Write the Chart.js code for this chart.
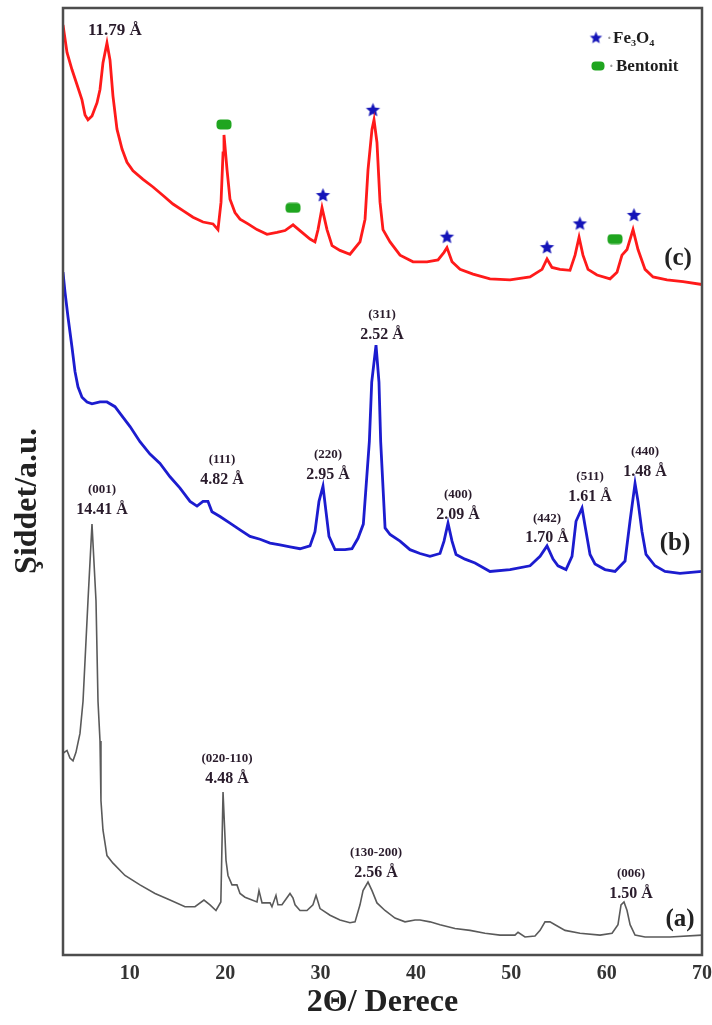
<!DOCTYPE html>
<html>
<head>
<meta charset="utf-8">
<script src="https://cdn.jsdelivr.net/npm/chart.js@4.4.0/dist/chart.umd.min.js"></script>
<style>
  html, body { margin: 0; padding: 0; background: #fff; }
</style>
</head>
<body>
<canvas id="xrd" width="712" height="1025"></canvas>
<script>
// (a) bentonite, (b) Fe3O4, (c) Fe3O4/bentonite composite
const aTheta = [3.0,3.42,3.73,4.05,4.36,4.78,5.10,5.62,6.04,6.46,6.67,6.88,6.98,7.19,7.61,8.24,9.50,11.07,12.65,14.22,15.79,16.84,17.78,18.41,19.04,19.55,19.78,20.09,20.30,20.72,21.24,21.56,22.08,23.34,23.55,23.87,24.71,24.91,25.33,25.54,25.96,26.80,27.12,27.33,27.85,28.58,29.21,29.53,29.95,31.00,32.04,33.09,33.62,34.14,34.46,34.98,35.40,35.92,36.76,37.81,38.86,39.91,40.43,41.48,42.53,44.10,45.68,47.25,48.82,50.39,50.71,51.44,52.49,53.02,53.54,54.06,54.59,55.64,57.21,59.31,60.57,61.19,61.51,61.82,62.14,62.46,62.98,64.03,66.65,70.0];
const aInt = [21.3,21.6,20.8,20.5,21.4,23.4,26.8,37.4,45.5,37.4,26.8,22.6,16.3,13.2,10.5,9.7,8.4,7.4,6.5,5.8,5.1,5.1,5.8,5.3,4.7,5.6,17.2,10.0,8.4,7.4,7.4,6.5,6.1,5.6,6.8,5.5,5.5,5.1,6.3,5.3,5.3,6.5,6.0,5.3,4.7,4.7,5.3,6.3,4.9,4.2,3.7,3.4,3.5,5.3,6.8,7.7,6.8,5.5,4.7,3.9,3.5,3.7,3.7,3.5,3.2,2.8,2.6,2.3,2.1,2.1,2.4,1.9,2.0,2.6,3.5,3.5,3.2,2.6,2.3,2.1,2.3,3.2,5.3,5.6,4.7,3.2,2.1,1.9,1.9,2.1];

const bTheta = [3.00,3.21,3.52,3.94,4.26,4.57,4.99,5.52,6.04,6.88,7.61,8.45,8.98,10.03,11.07,12.12,13.17,14.22,15.27,16.32,17.05,17.68,18.20,18.62,19.46,20.51,21.56,22.61,23.66,24.71,25.75,26.80,27.85,28.90,29.42,29.84,30.26,30.58,30.89,31.52,32.57,33.30,33.93,34.49,35.12,35.37,35.82,36.13,36.31,36.77,37.29,38.34,39.38,40.43,41.48,42.53,42.95,43.37,43.79,44.21,45.15,46.20,47.77,49.87,51.97,53.02,53.75,54.38,54.90,55.74,56.37,56.79,57.42,57.74,58.26,58.78,59.83,60.88,61.93,62.45,62.98,63.29,63.71,64.13,65.07,66.12,67.69,70.00];
const bInt = [72.1,70.0,67.4,64.2,61.6,60.0,58.9,58.4,58.2,58.4,58.4,57.9,57.2,55.8,54.2,52.9,51.9,50.5,49.3,47.9,47.4,47.9,47.9,46.8,46.3,45.6,44.9,44.2,43.9,43.5,43.3,43.1,42.9,43.2,44.7,47.9,49.5,46.8,44.2,42.8,42.8,42.9,44.0,45.5,54.2,60.5,64.4,60.5,54.2,45.1,44.4,43.7,42.8,42.4,42.1,42.4,43.7,45.6,43.7,42.3,41.8,41.4,40.5,40.7,41.1,42.1,43.2,41.8,41.1,40.7,42.1,45.8,47.2,45.3,42.3,41.3,40.7,40.5,41.6,45.8,49.8,47.9,44.7,42.3,41.1,40.5,40.3,40.5];

const cTheta = [3.00,3.42,3.94,4.47,4.99,5.31,5.62,6.04,6.57,6.88,7.19,7.61,7.93,8.24,8.66,9.19,9.71,10.34,11.39,12.44,13.49,14.53,15.58,16.63,17.68,18.73,19.25,19.57,19.78,19.88,20.20,20.51,21.03,21.56,22.40,23.34,24.39,25.44,26.28,27.12,28.06,28.90,29.42,29.74,30.16,30.68,31.21,32.04,33.09,34.14,34.67,34.98,35.40,35.61,35.92,36.24,36.55,37.29,38.34,39.70,41.17,42.32,42.95,43.26,43.79,44.63,45.99,47.77,49.87,51.97,53.23,53.75,54.27,55.11,56.16,56.69,57.11,57.52,58.05,58.99,60.36,61.09,61.61,62.14,62.77,63.29,64.03,64.87,66.33,68.01,70.00];
const cInt = [98.2,95.3,93.5,91.9,90.3,88.7,88.2,88.6,90.0,91.4,94.2,96.3,94.5,90.7,87.2,85.1,83.7,82.8,81.9,81.1,80.2,79.3,78.6,77.9,77.4,77.2,76.6,79.5,84.7,86.6,82.9,79.8,78.4,77.7,77.2,76.6,76.1,76.3,76.5,77.1,76.3,75.6,75.3,76.6,78.9,76.6,74.9,74.4,74.0,75.3,77.7,82.9,87.2,88.2,85.8,79.5,76.6,75.3,73.9,73.2,73.2,73.4,74.2,74.7,73.2,72.4,71.9,71.4,71.3,71.6,72.4,73.5,72.6,72.4,72.3,73.9,75.8,73.9,72.4,71.8,71.4,72.1,73.9,74.5,76.6,74.5,72.4,71.6,71.3,71.1,70.8];

// phase markers on curve (c)
const feTheta = [30.26, 35.50, 43.26, 53.75, 57.20, 62.87];
const feInt = [80.2, 89.2, 75.8, 74.7, 77.2, 78.1];
const benTheta = [19.88, 27.12, 60.88];
const benInt = [87.7, 78.9, 75.6];

const xTicks = [10, 20, 30, 40, 50, 60, 70];

// peak annotations: miller index over d-spacing
const peakHkl = ['(001)', '(111)', '(220)', '(311)', '(400)', '(442)', '(511)', '(440)', '(020-110)', '(130-200)', '(006)'];
const peakD = ['14.41 Å', '4.82 Å', '2.95 Å', '2.52 Å', '2.09 Å', '1.70 Å', '1.61 Å', '1.48 Å', '4.48 Å', '2.56 Å', '1.50 Å'];
const peakLabelTheta = [7.09, 19.67, 30.79, 36.45, 44.42, 53.75, 58.26, 64.03, 20.2, 35.82, 62.56];
const peakLabelInt = [47.05, 50.2, 50.7, 65.5, 46.5, 44.0, 48.4, 51.05, 18.6, 8.7, 6.5];

const curveNames = ['(a)', '(b)', '(c)'];
const curveNameTheta = [67.7, 67.17, 67.49];
const curveNameInt = [3.7, 43.4, 73.5];

const SERIF = "'Liberation Serif', 'DejaVu Serif', serif";
const LABEL = '#2a1c2c';

function toPoints(xs, ys) {
  return xs.map((x, i) => ({ x: x, y: ys[i] }));
}

function starImage(r, color) {
  const c = document.createElement('canvas');
  const s = Math.ceil(r * 2 + 2);
  c.width = c.height = s;
  const g = c.getContext('2d');
  g.fillStyle = color;
  g.beginPath();
  for (let i = 0; i < 10; i++) {
    const rad = i % 2 ? r * 0.45 : r;
    const a = -Math.PI / 2 + i * Math.PI / 5;
    g.lineTo(s / 2 + rad * Math.cos(a), s / 2 + rad * Math.sin(a));
  }
  g.closePath();
  g.fill();
  return c;
}

function pillImage(w, h, color) {
  const c = document.createElement('canvas');
  c.width = w; c.height = h;
  const g = c.getContext('2d');
  g.fillStyle = color;
  g.beginPath();
  g.roundRect(0.5, 0.5, w - 1, h - 1, 4);
  g.fill();
  return c;
}

const star = starImage(7.5, '#1414b8');
const legendStar = starImage(6.5, '#1414b8');
const pill = pillImage(16, 11, '#1fa51f');
const legendPill = pillImage(14, 10, '#1fa51f');

const framePlugin = {
  id: 'frame',
  afterDraw(chart) {
    const { ctx, chartArea: a } = chart;
    ctx.save();
    ctx.strokeStyle = '#4d4d4d';
    ctx.lineWidth = 2.5;
    ctx.strokeRect(a.left, a.top, a.right - a.left, a.bottom - a.top);
    ctx.restore();
  }
};

const textPlugin = {
  id: 'texts',
  afterDraw(chart) {
    const { ctx, chartArea: a } = chart;
    const xs = chart.scales.x, ys = chart.scales.y;
    ctx.save();
    ctx.textAlign = 'center';
    ctx.textBaseline = 'middle';
    ctx.fillStyle = LABEL;

    peakD.forEach((d, i) => {
      const px = xs.getPixelForValue(peakLabelTheta[i]);
      const py = ys.getPixelForValue(peakLabelInt[i]);
      ctx.font = 'bold 13px ' + SERIF;
      ctx.fillText(peakHkl[i], px, py - 20);
      ctx.font = 'bold 16px ' + SERIF;
      ctx.fillText(d, px, py);
    });

    ctx.font = 'bold 17px ' + SERIF;
    ctx.fillText('11.79 Å', xs.getPixelForValue(8.45), ys.getPixelForValue(97.6));

    ctx.fillStyle = '#222';
    ctx.font = 'bold 25px ' + SERIF;
    curveNames.forEach((n, i) => {
      ctx.fillText(n, xs.getPixelForValue(curveNameTheta[i]), ys.getPixelForValue(curveNameInt[i]));
    });

    // legend, top right corner
    const lx = a.right - 106;
    ctx.drawImage(legendStar, lx - legendStar.width / 2, a.top + 30 - legendStar.height / 2);
    ctx.drawImage(legendPill, lx + 2 - legendPill.width / 2, a.top + 58 - legendPill.height / 2);
    ctx.textAlign = 'left';
    ctx.fillStyle = '#999';
    ctx.font = 'bold 14px ' + SERIF;
    ctx.fillText('·', lx + 11, a.top + 31);
    ctx.fillText('·', lx + 13, a.top + 59);
    ctx.fillStyle = '#1e1e1e';
    ctx.font = 'bold 17px ' + SERIF;
    ctx.fillText('Fe₃O₄', lx + 17, a.top + 31);
    ctx.fillText('Bentonit', lx + 20, a.top + 59);

    // vertical axis title
    ctx.translate(28, 501);
    ctx.rotate(-Math.PI / 2);
    ctx.textAlign = 'center';
    ctx.fillStyle = '#222';
    ctx.font = 'bold 32px ' + SERIF;
    ctx.fillText('Şiddet/a.u.', 0, 0);
    ctx.restore();
  }
};

new Chart(document.getElementById('xrd'), {
  type: 'scatter',
  data: {
    datasets: [
      {
        label: '(a)',
        data: toPoints(aTheta, aInt),
        showLine: true,
        borderColor: '#5a5a5a',
        borderWidth: 1.6,
        pointRadius: 0,
        tension: 0
      },
      {
        label: '(b)',
        data: toPoints(bTheta, bInt),
        showLine: true,
        borderColor: '#1c1ccf',
        borderWidth: 2.8,
        pointRadius: 0,
        tension: 0
      },
      {
        label: '(c)',
        data: toPoints(cTheta, cInt),
        showLine: true,
        borderColor: '#ff1a1a',
        borderWidth: 2.8,
        pointRadius: 0,
        tension: 0
      },
      {
        label: 'Fe3O4',
        data: toPoints(feTheta, feInt),
        pointStyle: star,
        pointRadius: 7
      },
      {
        label: 'Bentonit',
        data: toPoints(benTheta, benInt),
        pointStyle: pill,
        pointRadius: 7
      }
    ]
  },
  options: {
    responsive: false,
    animation: false,
    devicePixelRatio: 1,
    layout: { padding: { top: 5, right: 10, left: 0, bottom: 0 } },
    plugins: {
      legend: { display: false },
      tooltip: { enabled: false }
    },
    scales: {
      x: {
        type: 'linear',
        min: 3,
        max: 70,
        afterBuildTicks: s => { s.ticks = xTicks.map(v => ({ value: v })); },
        afterFit: s => {
          s.height = 70;
          s.paddingLeft = 0;
          s.paddingRight = 0;
        },
        grid: { display: false, drawTicks: false },
        border: { display: false },
        ticks: {
          font: { family: SERIF, size: 20, weight: 'bold' },
          color: '#333',
          padding: 7,
          maxRotation: 0,
          autoSkip: false
        },
        title: {
          display: true,
          text: '2Θ/ Derece',
          color: '#222',
          font: { family: SERIF, size: 32, weight: 'bold', lineHeight: 1 },
          padding: { top: 0, bottom: 6 }
        }
      },
      y: {
        type: 'linear',
        min: 0,
        max: 100,
        afterFit: s => {
          s.width = 63;
          s.paddingTop = 0;
          s.paddingBottom = 0;
        },
        grid: { display: false, drawTicks: false },
        border: { display: false },
        ticks: { display: false }
      }
    }
  },
  plugins: [framePlugin, textPlugin]
});
</script>
</body>
</html>
